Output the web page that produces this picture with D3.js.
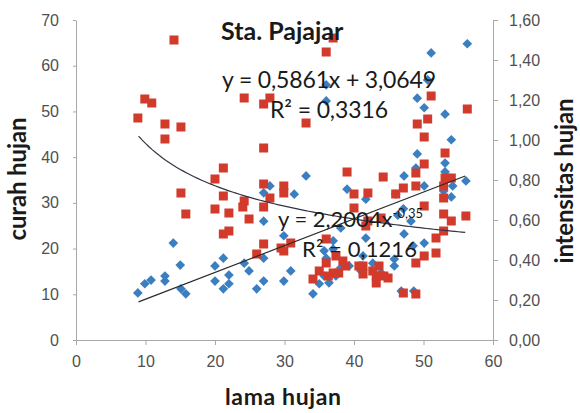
<!DOCTYPE html>
<html>
<head>
<meta charset="utf-8">
<script src="https://cdn.jsdelivr.net/npm/d3@7"></script>
<style>
  body { margin: 0; background: #fff; }
  svg { display: block; }
</style>
</head>
<body>
<div id="chart"></div>
<script>
// lama hujan vs curah hujan (blue diamonds, left axis)
const blueLama = [8.9, 9.9, 10.8, 12.8, 12.8, 14.0, 15.0, 15.1, 15.8, 20.0, 20.0, 21.2, 21.2, 22.0, 22.0,
  24.2, 24.9, 26.0, 27.0, 27.0, 27.0, 27.9, 27.0, 29.9, 30.9, 29.9, 33.1, 36.0, 36.0, 51.1, 56.3,
  50.6, 49.1, 50.1, 53.1, 54.0, 49.1, 53.1, 53.1, 47.2, 48.9, 56.1, 39.0, 46.0, 50.1, 54.2, 54.0,
  52.9, 41.7, 38.1, 41.7, 34.1, 36.0, 37.0, 37.0, 35.0, 35.7, 36.4, 37.4, 38.1, 39.3, 41.0, 41.3,
  42.7, 43.9, 46.3, 47.1, 35.7, 45.8, 45.8, 50.1, 48.5, 47.2, 48.6, 46.8, 31.4, 48.2];
const blueCurah = [10.3, 12.3, 13.1, 14.0, 12.9, 21.2, 16.4, 11.2, 10.1, 16.2, 12.9, 17.9, 11.2, 14.2, 12.3,
  16.8, 15.1, 11.2, 26.0, 17.9, 12.9, 33.7, 32.2, 22.8, 15.1, 12.9, 35.9, 52.3, 55.8, 62.8, 64.8,
  56.9, 52.9, 50.8, 49.4, 43.8, 40.7, 38.7, 36.8, 35.9, 37.6, 34.8, 33.0, 31.9, 33.7, 33.7, 31.3,
  32.6, 30.8, 24.5, 22.3, 10.1, 17.9, 19.9, 21.7, 12.3, 14.0, 12.5, 14.0, 15.8, 16.2, 15.1, 18.4,
  16.8, 14.7, 27.3, 28.7, 19.5, 17.7, 16.2, 21.2, 20.6, 23.2, 10.7, 10.7, 31.9, 26.0];

// lama hujan vs intensitas hujan (red squares, right axis)
const redLama = [8.9, 9.9, 10.9, 12.8, 15.1, 12.8, 14.1, 24.2, 27.9, 27.0, 27.0, 21.2, 20.0, 27.0, 29.9,
  29.9, 15.1, 15.8, 20.0, 21.2, 22.0, 24.2, 24.0, 24.9, 21.2, 22.0, 27.9, 27.0, 27.0, 26.0, 29.9,
  30.9, 36.0, 37.0, 33.1, 51.1, 50.6, 49.1, 50.1, 56.3, 53.1, 50.1, 48.9, 39.0, 44.2, 40.0, 42.0,
  47.1, 48.9, 53.1, 54.0, 40.0, 41.7, 46.0, 36.0, 37.4, 38.4, 36.0, 35.0, 37.0, 34.1, 36.3, 37.8,
  38.8, 41.3, 41.3, 42.7, 43.6, 43.2, 44.3, 43.2, 44.9, 47.1, 48.9, 50.1, 52.9, 52.9, 52.9, 54.0,
  56.1, 51.8, 51.8, 50.1, 48.9, 43.9, 42.0, 29.5, 52.9, 40.7];
const redIntensitas = [1.11, 1.205, 1.185, 1.08, 1.065, 1.005, 1.50, 1.21, 1.21, 1.18, 0.96, 0.86, 0.805, 0.78, 0.77,
  0.735, 0.735, 0.63, 0.655, 0.72, 0.635, 0.695, 0.665, 0.605, 0.53, 0.545, 0.71, 0.665, 0.48, 0.43, 0.445,
  0.485, 1.44, 1.51, 1.085, 1.22, 1.105, 1.08, 1.015, 1.155, 0.935, 0.88, 0.835, 0.84, 0.815, 0.73, 0.735,
  0.76, 0.77, 0.81, 0.81, 0.66, 0.57, 0.73, 0.505, 0.42, 0.395, 0.385, 0.345, 0.335, 0.305, 0.32, 0.335,
  0.37, 0.37, 0.33, 0.345, 0.37, 0.32, 0.32, 0.285, 0.31, 0.235, 0.23, 0.67, 0.71, 0.63, 0.545, 0.595,
  0.62, 0.51, 0.435, 0.42, 0.385, 0.61, 0.595, 0.46, 0.77, 0.37];

// trendline coefficients as printed on the chart
const linCoef = [0.5861, 3.0649];      // y = a x + b
const powCoef = [2.2004, -0.35];       // y = a x^b
const trendRange = [9, 56];

const xTicks = [0, 10, 20, 30, 40, 50, 60];
const leftTicks = [0, 10, 20, 30, 40, 50, 60, 70];
const rightTicks = [0, 0.2, 0.4, 0.6, 0.8, 1.0, 1.2, 1.4, 1.6];

const width = 580, height = 413;
const m = { left: 76, right: 493, top: 20, bottom: 340 };

const svg = d3.select("#chart").append("svg")
    .attr("width", width)
    .attr("height", height);

const x = d3.scaleLinear().domain([0, 60]).range([m.left, m.right]);
const yL = d3.scaleLinear().domain([0, 70]).range([m.bottom, m.top]);
const yR = d3.scaleLinear().domain([0, 1.6]).range([m.bottom, m.top]);

const comma = d => d3.format(".2f")(d).replace(".", ",");

function styleAxis(g) {
    g.select(".domain").attr("stroke", "#a8a8a8");
    g.selectAll(".tick line").attr("stroke", "#a8a8a8");
    g.selectAll(".tick text")
        .attr("fill", "#505050")
        .style("font-family", "Liberation Sans, Arial, sans-serif")
        .style("font-size", "16px");
}

svg.append("g")
    .attr("transform", `translate(0,${m.bottom})`)
    .call(d3.axisBottom(x).tickValues(xTicks).tickSize(5).tickSizeOuter(0).tickPadding(11))
    .call(styleAxis);

svg.append("g")
    .attr("transform", `translate(${m.left},0)`)
    .call(d3.axisLeft(yL).tickValues(leftTicks).tickSize(3).tickSizeOuter(0).tickPadding(14))
    .call(styleAxis);

svg.append("g")
    .attr("transform", `translate(${m.right},0)`)
    .call(d3.axisRight(yR).tickValues(rightTicks).tickFormat(comma).tickSize(5).tickSizeOuter(0).tickPadding(11))
    .call(styleAxis);

// markers
const blueData = blueLama.map((v, i) => [v, blueCurah[i]]);
const redData = redLama.map((v, i) => [v, redIntensitas[i]]);

svg.append("g").selectAll("path")
    .data(blueData)
    .enter().append("path")
    .attr("d", d3.symbol(d3.symbolDiamond2, 60))
    .attr("transform", d => `translate(${x(d[0])},${yL(d[1])})`)
    .attr("fill", "#3b7fc0");

svg.append("g").selectAll("rect")
    .data(redData)
    .enter().append("rect")
    .attr("x", d => x(d[0]) - 4.5)
    .attr("y", d => yR(d[1]) - 4.5)
    .attr("width", 9)
    .attr("height", 9)
    .attr("fill", "#d23a2c");

// trendlines
const linLine = d3.line().x(d => x(d)).y(d => yL(linCoef[0] * d + linCoef[1]));
svg.append("path")
    .attr("d", linLine(trendRange))
    .attr("fill", "none")
    .attr("stroke", "#2b2b2b")
    .attr("stroke-width", 1.2);

const powX = d3.range(trendRange[0], trendRange[1] + 0.01, 0.5);
const powLine = d3.line().x(d => x(d)).y(d => yR(powCoef[0] * Math.pow(d, powCoef[1])));
svg.append("path")
    .attr("d", powLine(powX))
    .attr("fill", "none")
    .attr("stroke", "#333344")
    .attr("stroke-width", 1.2);

// texts
const txt = (s, px, py, size, weight, len) => {
    const t = svg.append("text")
        .attr("x", px).attr("y", py)
        .style("font-family", "Lato, 'Open Sans', sans-serif")
        .style("font-size", size + "px")
        .style("font-weight", weight)
        .attr("fill", "#1a1a1a")
        .text(s);
    if (len) t.attr("textLength", len).attr("lengthAdjust", "spacing");
    return t;
};

txt("Sta. Pajajar", 221, 40, 25, "bold");
txt("y = 0,5861x + 3,0649", 222, 88, 23, "normal", 214);
txt("R² = 0,3316", 270, 118, 23, "normal", 118);

const eq2 = txt("y = 2,2004x", 278, 227, 22, "normal");
eq2.append("tspan").attr("dy", -9).style("font-size", "13px").text("-0,35");
txt("R² = 0,1216", 302, 257, 22, "normal", 115);

txt("lama hujan", 225, 405, 23, "bold", 116);

function vtitle(s, cx, cy, len) {
    svg.append("text")
        .attr("transform", `translate(${cx},${cy}) rotate(-90)`)
        .attr("x", -len / 2)
        .style("font-family", "Lato, sans-serif")
        .style("font-size", "24px")
        .style("font-weight", "bold")
        .attr("fill", "#1a1a1a")
        .attr("textLength", len)
        .attr("lengthAdjust", "spacing")
        .text(s);
}
vtitle("curah hujan", 26, 179, 123);
vtitle("intensitas hujan", 573, 181, 165);
</script>
</body>
</html>
